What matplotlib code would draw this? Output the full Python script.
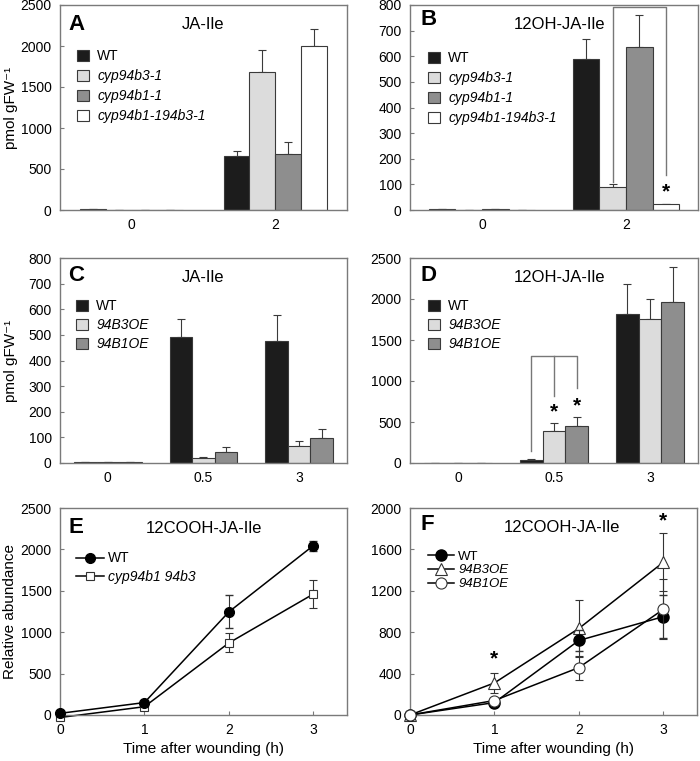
import numpy as np
import matplotlib
matplotlib.use("Agg")
import matplotlib.pyplot as plt

plt.rcParams['font.family'] = ['Liberation Sans', 'DejaVu Sans']
plt.rcParams['font.size'] = 10

# ---- data ----
ab_groups = ['0', '2']
a_wt, a_wt_err = [10, 655], [0, 65]
a_b3, a_b3_err = [2, 1685], [0, 270]
a_b1, a_b1_err = [4, 680], [0, 150]
a_dbl, a_dbl_err = [3, 2000], [0, 210]

b_wt, b_wt_err = [3, 588], [0, 80]
b_b3, b_b3_err = [0, 88], [0, 12]
b_b1, b_b1_err = [3, 638], [0, 122]
b_dbl, b_dbl_err = [0, 22], [0, 3]

cd_groups = ['0', '0.5', '3']
c_wt, c_wt_err = [3, 492, 478], [1, 70, 100]
c_b3, c_b3_err = [3, 20, 67], [0, 4, 17]
c_b1, c_b1_err = [3, 44, 99], [0, 20, 33]

d_wt, d_wt_err = [5, 42, 1820], [0, 12, 360]
d_b3, d_b3_err = [5, 392, 1760], [0, 100, 245]
d_b1, d_b1_err = [5, 452, 1965], [0, 115, 420]

hours = [0, 1, 2, 3]
e_wt, e_wt_err = [20, 150, 1245, 2045], [20, 20, 200, 60]
e_dbl, e_dbl_err = [-30, 100, 870, 1460], [10, 20, 115, 165]

f_wt, f_wt_err = [0, 120, 720, 950], [10, 20, 100, 210]
f_b3oe, f_b3oe_err = [0, 310, 836, 1475], [10, 95, 272, 280]
f_b1oe, f_b1oe_err = [0, 140, 458, 1020], [10, 20, 116, 290]

mutant_labels = ['WT', 'cyp94b3-1', 'cyp94b1-1', 'cyp94b1-194b3-1']
oe_labels = ['WT', '94B3OE', '94B1OE']
bar_colors = ['#1c1c1c', '#dcdcdc', '#8e8e8e', '#ffffff']

SPINE = '#7a7a7a'
EDGE = '#3a3a3a'

fig = plt.figure(figsize=(7.0, 7.61), dpi=100)

def frame(ax):
    for s in ax.spines.values():
        s.set_color(SPINE)
        s.set_linewidth(1.0)
    ax.tick_params(direction='in', length=3, width=0.8, color=SPINE, pad=6, labelsize=10)

def bar_panel(ax, groups, series, errs, labels, width, ylim, yticks):
    x = np.arange(len(groups))
    n = len(series)
    for i, (vals, err) in enumerate(zip(series, errs)):
        pos = x + (i - (n - 1) / 2) * width
        ax.bar(pos, vals, width, color=bar_colors[i], edgecolor=EDGE, linewidth=0.8,
               label=labels[i], zorder=2)
        ax.errorbar(pos, vals, yerr=[np.zeros(len(err)), err], fmt='none',
                    ecolor=EDGE, elinewidth=0.8, capsize=3, capthick=0.8, zorder=1)
    ax.set_xlim(-0.5, len(groups) - 0.5)
    ax.set_xticks(x)
    ax.set_xticklabels(groups)
    ax.set_ylim(*ylim)
    ax.set_yticks(yticks)
    frame(ax)
    ax.tick_params(axis='x', length=0)
    return x

def bar_legend(ax, x0, y0, spacing=0.44):
    leg = ax.legend(loc='upper left', bbox_to_anchor=(x0, y0), frameon=False,
                    handlelength=0.85, handleheight=0.85, handletextpad=0.6,
                    labelspacing=spacing, borderpad=0, borderaxespad=0,
                    prop={'size': 10})
    for t in leg.get_texts()[1:]:
        t.set_style('italic')

def line_legend(ax, conts, labels, x0, y0, size, spacing):
    handles = [c.lines[0] for c in conts]
    leg = ax.legend(handles, labels, loc='upper left', bbox_to_anchor=(x0, y0),
                    frameon=False, handlelength=2.0, handletextpad=0.3,
                    labelspacing=spacing, borderpad=0, borderaxespad=0,
                    prop={'size': size})
    for t in leg.get_texts()[1:]:
        t.set_style('italic')

def panel_text(ax, letter, lx, ly, title, tx, ty):
    ax.text(lx, ly, letter, transform=ax.transAxes, fontsize=16, fontweight='bold',
            ha='left', va='center')
    ax.text(tx, ty, title, transform=ax.transAxes, fontsize=12, ha='center', va='center')

ylab = 'pmol gFW\u207b\u00b9'

# ---- A ----
axA = fig.add_axes([60 / 700, 1 - 210 / 761, 287 / 700, 205 / 761])
bar_panel(axA, ab_groups, [a_wt, a_b3, a_b1, a_dbl], [a_wt_err, a_b3_err, a_b1_err, a_dbl_err],
          mutant_labels, 0.18, (0, 2500), range(0, 2501, 500))
bar_legend(axA, 0.059, 0.785)
panel_text(axA, 'A', 0.03, 0.905, 'JA-Ile', 0.5, 0.905)
axA.set_ylabel(ylab, fontsize=11)
axA.yaxis.set_label_coords(-0.145, 0.5)

# ---- B ----
axB = fig.add_axes([410 / 700, 1 - 210 / 761, 288 / 700, 205 / 761])
xb = bar_panel(axB, ab_groups, [b_wt, b_b3, b_b1, b_dbl], [b_wt_err, b_b3_err, b_b1_err, b_dbl_err],
               mutant_labels, 0.185, (0, 800), range(0, 801, 100))
bar_legend(axB, 0.0625, 0.775)
panel_text(axB, 'B', 0.035, 0.93, '12OH-JA-Ile', 0.52, 0.905)
pb3 = xb[1] - 0.5 * 0.185
pdbl = xb[1] + 1.5 * 0.185
axB.plot([pb3, pb3, pdbl, pdbl], [110, 793, 793, 138], color='#777777', lw=1.0, zorder=3)
axB.text(pdbl, 70, '*', ha='center', va='center', fontsize=15, fontweight='bold')

# ---- C ----
axC = fig.add_axes([60 / 700, 1 - 463 / 761, 287 / 700, 205 / 761])
bar_panel(axC, cd_groups, [c_wt, c_b3, c_b1], [c_wt_err, c_b3_err, c_b1_err],
          oe_labels, 0.235, (0, 800), range(0, 801, 100))
bar_legend(axC, 0.056, 0.8, spacing=0.36)
panel_text(axC, 'C', 0.03, 0.915, 'JA-Ile', 0.5, 0.905)
axC.set_ylabel(ylab, fontsize=11)
axC.yaxis.set_label_coords(-0.145, 0.5)

# ---- D ----
axD = fig.add_axes([410 / 700, 1 - 463 / 761, 288 / 700, 205 / 761])
xd = bar_panel(axD, cd_groups, [d_wt, d_b3, d_b1], [d_wt_err, d_b3_err, d_b1_err],
               oe_labels, 0.235, (0, 2500), range(0, 2501, 500))
bar_legend(axD, 0.0625, 0.8, spacing=0.36)
panel_text(axD, 'D', 0.035, 0.915, '12OH-JA-Ile', 0.52, 0.905)
p0, p1, p2 = xd[1] - 0.235, xd[1], xd[1] + 0.235
axD.plot([p0, p0, p2, p2], [142, 1306, 1306, 919], color='#777777', lw=1.0, zorder=3)
axD.plot([p1, p1], [1306, 816], color='#777777', lw=1.0, zorder=3)
axD.text(p1, 620, '*', ha='center', va='center', fontsize=15, fontweight='bold')
axD.text(p2, 700, '*', ha='center', va='center', fontsize=15, fontweight='bold')

# ---- E ----
axE = fig.add_axes([60 / 700, 1 - 715 / 761, 287 / 700, 207 / 761])
cE1 = axE.errorbar(hours, e_wt, yerr=e_wt_err, color='black', lw=1.1, marker='o', ms=7,
                   mfc='black', mec='black', ecolor='#333333', elinewidth=0.8, capsize=3,
                   clip_on=False, zorder=3)
cE2 = axE.errorbar(hours, e_dbl, yerr=e_dbl_err, color='black', lw=1.1, marker='s', ms=6,
                   mfc='white', mec='#333333', mew=0.8, ecolor='#333333', elinewidth=0.8,
                   capsize=3, clip_on=False, zorder=2)
axE.set_xlim(0, 3.4)
axE.set_ylim(0, 2500)
axE.set_xticks(hours)
axE.set_yticks(range(0, 2501, 500))
frame(axE)
line_legend(axE, [cE1, cE2], ['WT', 'cyp94b1 94b3'], 0.055, 0.79, 10, 0.35)
panel_text(axE, 'E', 0.03, 0.905, '12COOH-JA-Ile', 0.5, 0.9)
axE.set_ylabel('Relative abundance', fontsize=11)
axE.yaxis.set_label_coords(-0.15, 0.5)
axE.set_xlabel('Time after wounding (h)', fontsize=11, labelpad=3)

# ---- F ----
axF = fig.add_axes([410 / 700, 1 - 715 / 761, 287 / 700, 207 / 761])
cF1 = axF.errorbar(hours, f_wt, yerr=f_wt_err, color='black', lw=1.1, marker='o', ms=8,
                   mfc='black', mec='black', ecolor='#333333', elinewidth=0.8, capsize=3,
                   clip_on=False, zorder=3)
cF2 = axF.errorbar(hours, f_b3oe, yerr=f_b3oe_err, color='black', lw=1.1, marker='^', ms=9,
                   mfc='white', mec='#333333', mew=0.8, ecolor='#333333', elinewidth=0.8,
                   capsize=3, clip_on=False, zorder=2)
cF3 = axF.errorbar(hours, f_b1oe, yerr=f_b1oe_err, color='black', lw=1.1, marker='o', ms=8,
                   mfc='white', mec='#333333', mew=0.8, ecolor='#333333', elinewidth=0.8,
                   capsize=3, clip_on=False, zorder=4)
axF.set_xlim(0, 3.4)
axF.set_ylim(0, 2000)
axF.set_xticks(hours)
axF.set_yticks(range(0, 2001, 400))
frame(axF)
line_legend(axF, [cF1, cF2, cF3], oe_labels, 0.062, 0.795, 9.5, 0.12)
panel_text(axF, 'F', 0.035, 0.92, '12COOH-JA-Ile', 0.53, 0.905)
axF.text(1, 545, '*', ha='center', va='center', fontsize=15, fontweight='bold')
axF.text(3, 1871, '*', ha='center', va='center', fontsize=15, fontweight='bold')
axF.set_xlabel('Time after wounding (h)', fontsize=11, labelpad=3)

fig.savefig('out.png', dpi=100)
